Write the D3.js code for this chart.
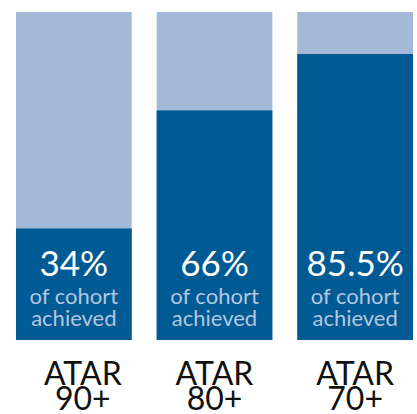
<!DOCTYPE html>
<html><head><meta charset="utf-8">
<script src="https://cdn.jsdelivr.net/npm/d3@7"></script>
<style>body{margin:0;background:#fff}svg{display:block}</style>
</head><body>
<script>
const categories = ["ATAR 90+", "ATAR 80+", "ATAR 70+"];
const catLine1 = ["ATAR", "ATAR", "ATAR"];
const catLine2 = ["90+", "80+", "70+"];
const achievedLabels = ["34%", "66%", "85.5%"];
// dark (achieved) share as drawn in the picture, and the light remainder
const achievedDrawn = [34, 70, 87.2];
const totals = [100, 100, 100];

const W = 417, H = 414;
const svg = d3.select("body").append("svg").attr("width", W).attr("height", H);

const x = d3.scaleBand().domain(categories).range([16, 413]).paddingInner(25/141).paddingOuter(0);
const y = d3.scaleLinear().domain([0, 100]).range([340, 12]);

const g = svg.selectAll("g.bar").data(categories).join("g").attr("class", "bar");

g.append("rect")
  .attr("x", d => x(d)).attr("width", x.bandwidth())
  .attr("y", (d, i) => y(totals[i])).attr("height", (d, i) => y(0) - y(totals[i]))
  .attr("fill", "#a3b9d7");
g.append("rect")
  .attr("x", d => x(d)).attr("width", x.bandwidth())
  .attr("y", (d, i) => y(achievedDrawn[i])).attr("height", (d, i) => y(0) - y(achievedDrawn[i]))
  .attr("fill", "#005a93");

const cx = d => x(d) + x.bandwidth() / 2;
g.append("text").attr("x", cx).attr("y", 276).attr("text-anchor", "middle")
  .attr("font-family", "Lato").attr("font-size", 35).attr("fill", "#ffffff")
  .text((d, i) => achievedLabels[i]);
g.append("text").attr("x", cx).attr("y", 304).attr("text-anchor", "middle")
  .attr("font-family", "Lato").attr("font-size", 22).attr("fill", "#b4c6e0")
  .text("of cohort");
g.append("text").attr("x", cx).attr("y", 326).attr("text-anchor", "middle")
  .attr("font-family", "Lato").attr("font-size", 22).attr("fill", "#b4c6e0")
  .text("achieved");
const catDx = (d, i) => i === 0 ? 9 : 0;
g.append("text").attr("x", cx).attr("dx", catDx).attr("y", 385).attr("text-anchor", "middle")
  .attr("font-family", "Lato").attr("font-size", 32).attr("fill", "#111")
  .text((d, i) => catLine1[i]);
g.append("text").attr("x", cx).attr("dx", catDx).attr("y", 410).attr("text-anchor", "middle")
  .attr("font-family", "Lato").attr("font-size", 32).attr("fill", "#111")
  .text((d, i) => catLine2[i]);
</script>
</body></html>
